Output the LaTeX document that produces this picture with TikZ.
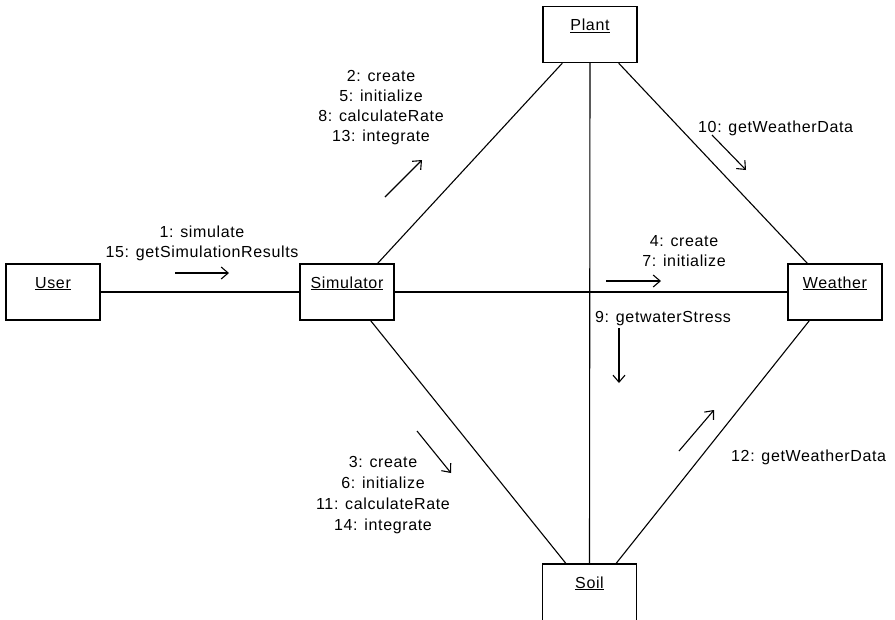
\documentclass[tikz,border=0pt]{standalone}
\usepackage{fontspec}
\setmainfont{Liberation Sans}[LetterSpace=4]
\usetikzlibrary{arrows.meta,calc}
\begin{document}
\begin{tikzpicture}[x=1pt,y=-1pt,
  objbox/.style={draw, line width=1.4pt, rectangle, inner sep=0pt,
    text width=94pt, align=center, text height=24pt, text depth=32pt},
  lbl/.style={inner sep=0pt, align=center, font=\fontsize{16}{20}\selectfont},
  lblw/.style={inner sep=0pt, anchor=west, font=\fontsize{16}{20}\selectfont},
  link/.style={line width=1.1pt},
  msg/.style={line width=1.1pt, -{Straight Barb[length=7pt,width=12pt,line width=1.1pt]}}
]
\useasboundingbox (0,0) rectangle (895,619);
\fill[white] (0,0) rectangle (895,619);

\node[objbox] (user) at (53,292) {\fontsize{16}{20}\selectfont\underline{User}};
\node[objbox] (sim) at (347,292) {\fontsize{16}{20}\selectfont\underline{Simulator}};
\node[objbox] (weather) at (835,292) {\fontsize{16}{20}\selectfont\underline{Weather}};
\node[objbox] (plant) at (590,34.5) {\fontsize{16}{20}\selectfont\underline{Plant}};
\node[objbox, text depth=36pt] (soil) at (589.5,594) {\fontsize{16}{20}\selectfont\underline{Soil}};

\draw[link] (user.east) -- (sim.west);
\draw[link] (sim.east) -- (weather.west);
\draw[link] (plant.south) -- (soil.north);
\draw[link] ($(sim.north east)+(-17,0)$) -- ($(plant.south west)+(20,0)$);
\draw[link] ($(sim.south east)+(-24,0)$) -- ($(soil.north west)+(24,0)$);
\draw[link] ($(plant.south east)+(-19,0)$) -- ($(weather.north west)+(20,0)$);
\draw[link] ($(soil.north east)+(-21,0)$) -- ($(weather.south west)+(22,0)$);

\node[lbl] (l1) at (202,243) {1: simulate\\15: getSimulationResults};
\node[lbl] (l2) at (381,107.5) {2: create\\5: initialize\\8: calculateRate\\13: integrate};
\node[lbl, font=\fontsize{16}{21}\selectfont] (l3) at (383,495.5) {3: create\\6: initialize\\11: calculateRate\\14: integrate};
\node[lbl] (l4) at (684,251.5) {4: create\\7: initialize};
\node[lblw] (l9) at (595,319) {9: getwaterStress};
\node[lblw] (l10) at (698,128) {10: getWeatherData};
\node[lblw] (l12) at (731,457) {12: getWeatherData};

\coordinate (a1s) at (175,273); \coordinate (a1e) at (229,273);
\coordinate (a2s) at (385,197); \coordinate (a2e) at (422,160);
\coordinate (a3s) at (417,431); \coordinate (a3e) at (451,473);
\coordinate (a4s) at (606,281); \coordinate (a4e) at (661,281);
\coordinate (a9s) at (619,328); \coordinate (a9e) at (619,383);
\coordinate (a10s) at (712,135); \coordinate (a10e) at (746,170);
\coordinate (a12s) at (679,451); \coordinate (a12e) at (714,410);
\draw[msg] (a1s) -- (a1e);
\draw[msg] (a2s) -- (a2e);
\draw[msg] (a3s) -- (a3e);
\draw[msg] (a4s) -- (a4e);
\draw[msg] (a9s) -- (a9e);
\draw[msg] (a10s) -- (a10e);
\draw[msg] (a12s) -- (a12e);
\end{tikzpicture}
\end{document}
